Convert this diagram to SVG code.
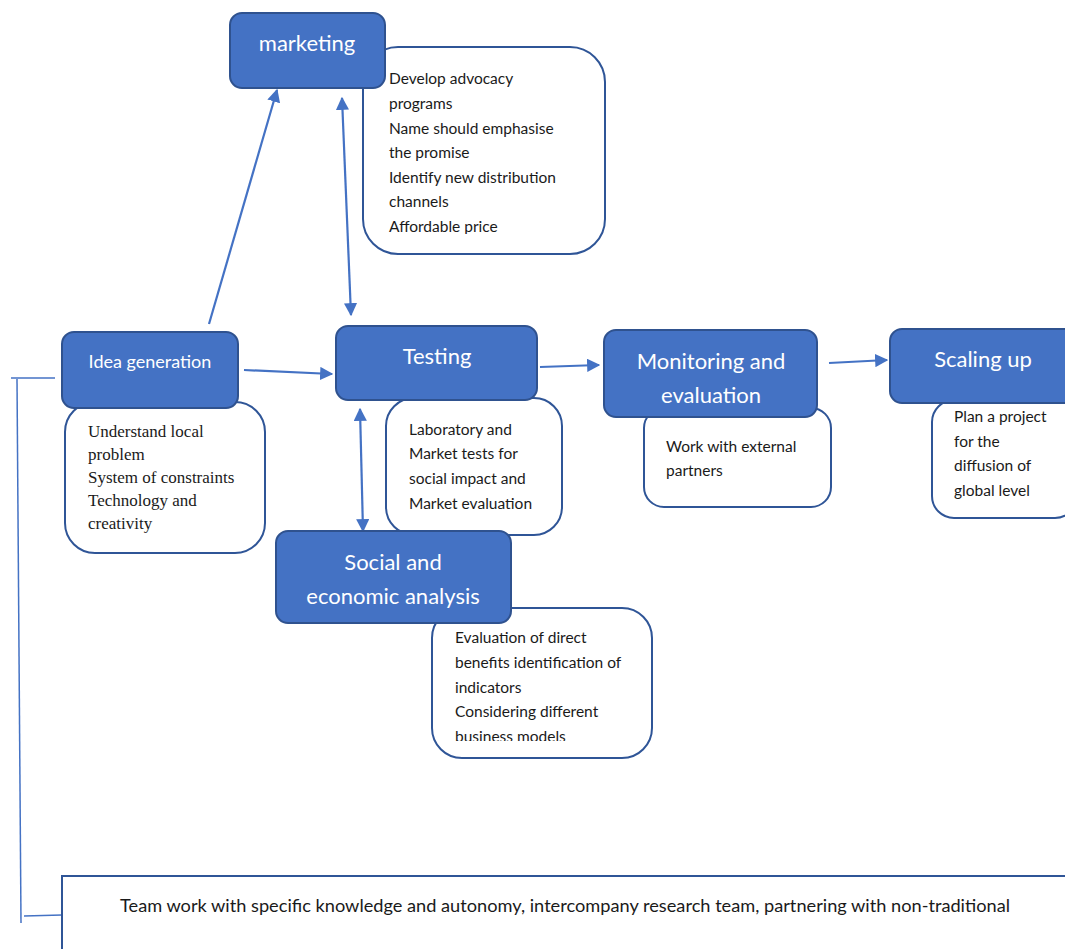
<svg xmlns="http://www.w3.org/2000/svg" width="1065" height="949" viewBox="0 0 1065 949">
  <style>
    .step { fill: #4472C4; stroke: #2F528F; stroke-width: 2; }
    .note { fill: #FFFFFF; stroke: #2F5597; stroke-width: 2; }
    .title { font-family: Lato, "Liberation Sans", sans-serif; font-size: 22px; fill: #FFFFFF; text-anchor: middle; }
    .small-title { font-size: 18px; }
    .body { font-family: Lato, "Liberation Sans", sans-serif; font-size: 15.5px; fill: #1A1A1A; }
    .serif { font-family: "Liberation Serif", serif; font-size: 17px; fill: #1A1A1A; }
    .link { stroke: #4472C4; stroke-width: 2.2; fill: none; }
    .bracket { stroke: #4472C4; stroke-width: 1.5; fill: none; }
  </style>
  <defs>
    <marker id="head" viewBox="0 0 10 10" refX="9" refY="5" markerWidth="6" markerHeight="6" markerUnits="strokeWidth" orient="auto-start-reverse">
      <path d="M0,0 L10,5 L0,10 Z" fill="#4472C4"/>
    </marker>
    <clipPath id="clip-marketing"><rect x="363" y="47" width="242" height="187"/></clipPath>
    <clipPath id="clip-social"><rect x="432" y="608" width="220" height="133"/></clipPath>
  </defs>

  <rect width="1065" height="949" fill="#FFFFFF"/>

  <!-- left bracket tying the stages to the team row -->
  <g id="bracket">
    <line class="bracket" x1="11" y1="378" x2="55" y2="378"/>
    <line class="bracket" x1="17" y1="379" x2="21" y2="923"/>
    <line class="bracket" x1="24" y1="916" x2="62" y2="915"/>
  </g>

  <!-- connectors -->
  <g id="connectors">
    <line class="link" x1="209" y1="324" x2="277" y2="90" marker-end="url(#head)"/>
    <line class="link" x1="342" y1="98" x2="351" y2="315" marker-start="url(#head)" marker-end="url(#head)"/>
    <line class="link" x1="244" y1="370" x2="332" y2="374" marker-end="url(#head)"/>
    <line class="link" x1="360" y1="409" x2="363" y2="531" marker-start="url(#head)" marker-end="url(#head)"/>
    <line class="link" x1="540" y1="367" x2="599" y2="365" marker-end="url(#head)"/>
    <line class="link" x1="829" y1="363" x2="887" y2="360" marker-end="url(#head)"/>
  </g>

  <!-- note cards (behind the stage boxes) -->
  <g id="marketing-notes">
    <rect class="note" x="363" y="47" width="242" height="207" rx="35"/>
    <g clip-path="url(#clip-marketing)">
      <text class="body" x="389" y="84">Develop advocacy</text>
      <text class="body" x="389" y="109">programs</text>
      <text class="body" x="389" y="134">Name should emphasise</text>
      <text class="body" x="389" y="158">the promise</text>
      <text class="body" x="389" y="183">Identify new distribution</text>
      <text class="body" x="389" y="207">channels</text>
      <text class="body" x="389" y="232">Affordable price</text>
    </g>
  </g>

  <g id="idea-notes">
    <rect class="note" x="65" y="402" width="200" height="151" rx="30"/>
    <text class="serif" x="88" y="437">Understand local</text>
    <text class="serif" x="88" y="460">problem</text>
    <text class="serif" x="88" y="483">System of constraints</text>
    <text class="serif" x="88" y="506">Technology and</text>
    <text class="serif" x="88" y="529">creativity</text>
  </g>

  <g id="testing-notes">
    <rect class="note" x="386" y="398" width="176" height="137" rx="28"/>
    <text class="body" x="409" y="435">Laboratory and</text>
    <text class="body" x="409" y="459">Market tests for</text>
    <text class="body" x="409" y="484">social impact and</text>
    <text class="body" x="409" y="509">Market evaluation</text>
  </g>

  <g id="monitoring-notes">
    <rect class="note" x="644" y="408" width="187" height="99" rx="20"/>
    <text class="body" x="666" y="452">Work with external</text>
    <text class="body" x="666" y="476">partners</text>
  </g>

  <g id="scaling-notes">
    <rect class="note" x="932" y="400" width="145" height="118" rx="22"/>
    <text class="body" x="954" y="422">Plan a project</text>
    <text class="body" x="954" y="447">for the</text>
    <text class="body" x="954" y="471">diffusion of</text>
    <text class="body" x="954" y="496">global level</text>
  </g>

  <g id="social-notes">
    <rect class="note" x="432" y="608" width="220" height="150" rx="30"/>
    <g clip-path="url(#clip-social)">
      <text class="body" x="455" y="643">Evaluation of direct</text>
      <text class="body" x="455" y="668">benefits identification of</text>
      <text class="body" x="455" y="693">indicators</text>
      <text class="body" x="455" y="717">Considering different</text>
      <text class="body" x="455" y="742">business models</text>
    </g>
  </g>

  <!-- stage boxes -->
  <g id="marketing">
    <rect class="step" x="230" y="13" width="155" height="75" rx="12"/>
    <text class="title" x="307" y="51">marketing</text>
  </g>

  <g id="idea-generation">
    <rect class="step" x="62" y="332" width="176" height="76" rx="12"/>
    <text class="title small-title" x="150" y="368">Idea generation</text>
  </g>

  <g id="testing">
    <rect class="step" x="336" y="326" width="201" height="74" rx="12"/>
    <text class="title" x="437" y="364">Testing</text>
  </g>

  <g id="monitoring">
    <rect class="step" x="604" y="330" width="213" height="87" rx="12"/>
    <text class="title" x="711" y="369">Monitoring and</text>
    <text class="title" x="711" y="403">evaluation</text>
  </g>

  <g id="scaling-up">
    <rect class="step" x="890" y="329" width="190" height="74" rx="12"/>
    <text class="title" x="983" y="367">Scaling up</text>
  </g>

  <g id="social-economic">
    <rect class="step" x="276" y="531" width="235" height="92" rx="12"/>
    <text class="title" x="393" y="570">Social and</text>
    <text class="title" x="393" y="604">economic analysis</text>
  </g>

  <!-- team row at the foot -->
  <g id="team">
    <rect x="62" y="876" width="1020" height="90" fill="#FFFFFF" stroke="#2F5597" stroke-width="2"/>
    <text x="120" y="912" font-family="Lato, 'Liberation Sans', sans-serif" font-size="17px" fill="#1A1A1A" textLength="890" lengthAdjust="spacingAndGlyphs">Team work with specific knowledge and autonomy, intercompany research team, partnering with non-traditional</text>
  </g>
</svg>
